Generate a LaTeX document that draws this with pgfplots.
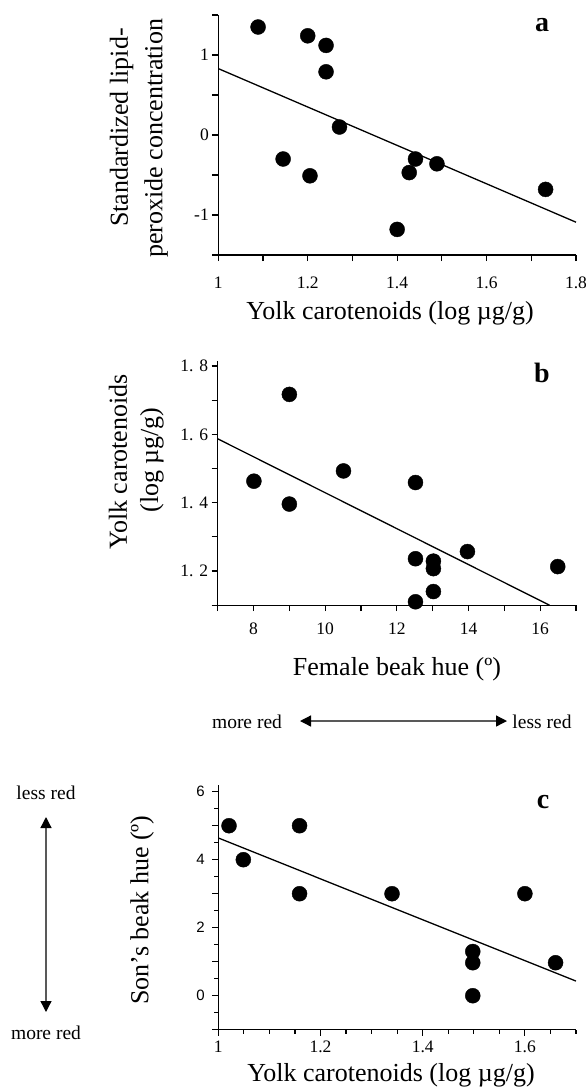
\documentclass[border=0pt]{standalone}
\usepackage{fontspec}
\setmainfont{Liberation Serif}
\newfontfamily\sansf{Liberation Sans}
\usepackage{pgfplots}
\pgfplotsset{compat=1.18}
\usetikzlibrary{arrows.meta}

\pgfplotsset{
  panel/.style={
    scale only axis, clip=false, anchor=south west,
    axis lines=left, axis line style={-, line width=1.4pt},
    tick align=outside, major tick length=6pt, minor tick length=6pt,
    tick style={black, line width=1.2pt},
    /pgf/number format/assume math mode=true,
    tick label style={font=\fontsize{17.5}{20}\selectfont},
  },
  dot/.style={only marks, mark=*, mark size=7.5pt, black},
  fit/.style={no marks, black, line width=1.3pt},
}
\newcommand{\lab}{\fontsize{26}{30}\selectfont}
\newcommand{\arr}{\fontsize{19.5}{22}\selectfont}
\tikzset{dirarrow/.style={{Triangle[length=11pt,width=11pt,color=black]}-{Triangle[length=11pt,width=11pt,color=black]},
  line width=1.3pt, draw=black!65}}

\begin{document}
\begin{tikzpicture}[x=1pt,y=1pt]
\useasboundingbox (0,0) rectangle (586,-1092);

% panel a
\begin{axis}[panel, at={(218.3pt,-255pt)}, width=357.7pt, height=240pt,
  xmin=1, xmax=1.8, ymin=-1.5, ymax=1.5,
  xtick={1,1.2,1.4,1.6,1.8}, xticklabels={1,1.2,1.4,1.6,1.8},
  minor xtick={1.1,1.3,1.5,1.7},
  xticklabel style={yshift=-12pt},
  ytick={-1,0,1}, yticklabels={-1,0,1}, minor ytick={-1.5,-0.5,0.5,1.5}]
\addplot[dot] coordinates {
  (1.089,1.35) (1.200,1.24) (1.241,1.12) (1.241,0.79) (1.271,0.10)
  (1.145,-0.30) (1.205,-0.51) (1.400,-1.18) (1.427,-0.47) (1.441,-0.30)
  (1.489,-0.36) (1.732,-0.68)
};
\addplot[fit] coordinates {(1,0.83) (1.8,-1.09)};
\end{axis}

% panel b
\begin{axis}[panel, at={(217.7pt,-605.2pt)}, width=358.3pt, height=244.3pt,
  xmin=7, xmax=17, ymin=1.1, ymax=1.815,
  xtick={8,10,12,14,16}, xticklabels={8,10,12,14,16},
  minor xtick={7,9,11,13,15,17},
  xticklabel style={yshift=-8pt},
  ytick={1.2,1.4,1.6,1.8}, yticklabels={1. 2,1. 4,1. 6,1. 8},
  minor ytick={1.1,1.3,1.5,1.7}]
\addplot[dot] coordinates {
  (8.01,1.463) (9.0,1.717) (9.0,1.396) (10.51,1.493) (12.52,1.459)
  (12.52,1.236) (13.02,1.229) (13.02,1.207) (13.02,1.140) (12.52,1.110)
  (13.97,1.257) (16.49,1.213)
};
\addplot[fit] coordinates {(7,1.587) (16.26,1.1)};
\end{axis}

% panel c
\begin{axis}[panel, at={(218.3pt,-1029.7pt)}, width=357.7pt, height=244.8pt,
  xmin=1, xmax=1.7, ymin=-1, ymax=6.2,
  xtick={1,1.2,1.4,1.6}, xticklabels={1,1.2,1.4,1.6},
  minor xtick={1.05,1.1,1.15,1.25,1.3,1.35,1.45,1.5,1.55,1.65,1.7},
  minor tick length=4pt,
  xticklabel style={yshift=-2pt},
  ytick={-1,0,1,2,3,4,5,6}, yticklabels={,0,,2,,4,,6},
  minor ytick={-0.5,0.5,1.5,2.5,3.5,4.5,5.5},
  yticklabel style={font=\sansf\fontsize{15}{18}\selectfont, xshift=-4pt}]
\addplot[dot] coordinates {
  (1.021,5) (1.049,4) (1.159,5) (1.159,3) (1.340,3)
  (1.498,1.30) (1.498,0.97) (1.498,0) (1.600,3) (1.660,0.97)
};
\addplot[fit] coordinates {(1,4.64) (1.7,0.43)};
\end{axis}

% labels
\node[font=\lab] at (390,-313) {Yolk carotenoids (log µg/g)};
\node[font=\lab, rotate=90] at (121.7,-127.5) {Standardized lipid-};
\node[font=\lab, rotate=90] at (156,-138.5) {peroxide concentration};
\node[font=\bfseries\fontsize{28}{30}\selectfont] at (542,-25) {a};

\node[font=\lab] at (397,-669) {Female beak hue (º)};
\node[font=\lab, rotate=90] at (118,-462) {Yolk carotenoids};
\node[font=\lab, rotate=90] at (152,-460) {(log µg/g)};
\node[font=\bfseries\fontsize{28}{30}\selectfont] at (542,-373) {b};

\node[font=\lab] at (391,-1075) {Yolk carotenoids (log µg/g)};
\node[font=\lab, rotate=90] at (142,-910) {Son’s beak hue (º)};
\node[font=\bfseries\fontsize{28}{30}\selectfont] at (543,-802) {c};

% direction arrows
\draw[dirarrow] (300,-721) -- (507,-721);
\node[font=\arr] at (247,-722) {more red};
\node[font=\arr] at (542,-722) {less red};
\draw[dirarrow] (46,-817) -- (46,-1012);
\node[font=\arr] at (46,-793) {less red};
\node[font=\arr] at (46,-1033) {more red};
\end{tikzpicture}
\end{document}
